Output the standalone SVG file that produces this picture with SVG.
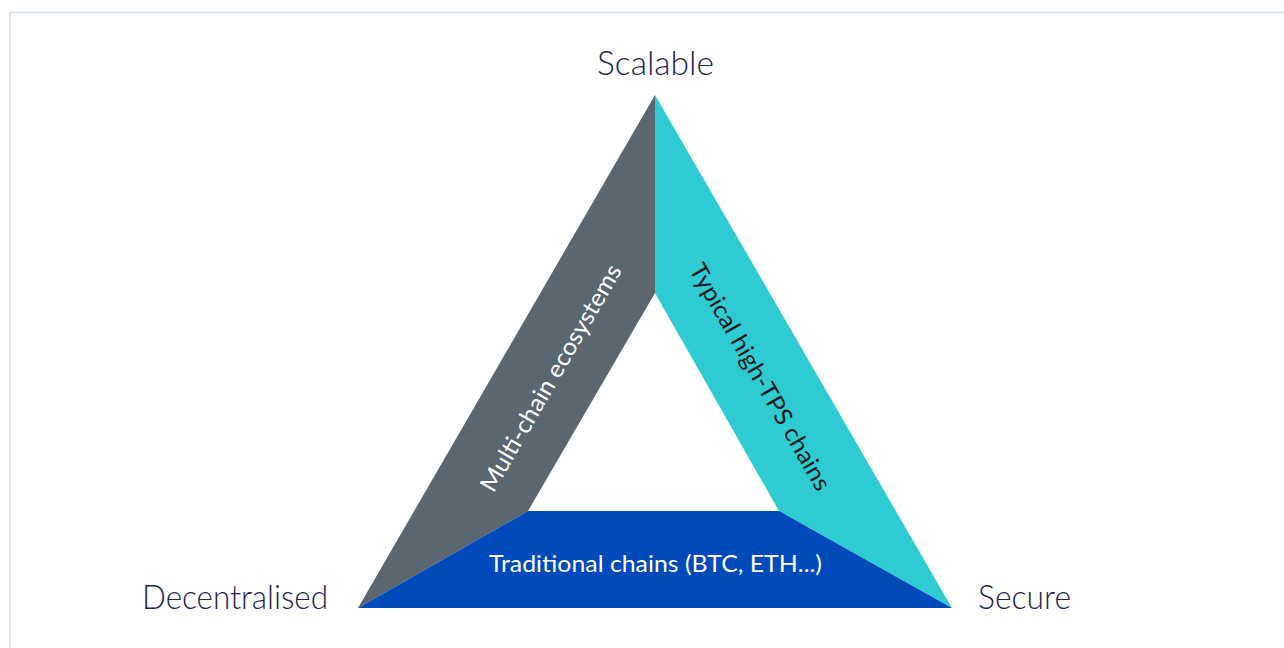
<svg xmlns="http://www.w3.org/2000/svg" width="1284" height="648" viewBox="0 0 1284 648">
  <style>
    .corner { font-family: Lato, "Liberation Sans", sans-serif; font-size: 34px; font-weight: 300; fill: #24224f; }
    .band { font-family: Lato, "Liberation Sans", sans-serif; font-size: 24px; font-weight: 400; }
  </style>
  <!-- page background and card frame -->
  <rect x="0" y="0" width="1284" height="648" fill="#ffffff"/>
  <path d="M10 660 V12.5 H1300" fill="none" stroke="#d3e0ea" stroke-width="1.6"/>

  <!-- left band: multi-chain ecosystems -->
  <g id="multi-chain">
    <polygon points="655,95 655,293 528,511 358,608" fill="#5a6670"/>
    <text class="band" x="0" y="0" fill="#ffffff" text-anchor="middle" transform="translate(558,382) rotate(-60)" textLength="258" lengthAdjust="spacingAndGlyphs">Multi-chain ecosystems</text>
  </g>

  <!-- right band: high-throughput chains -->
  <g id="high-tps">
    <polygon points="655,95 952,608 779,511 655,293" fill="#2ecbd2"/>
    <text class="band" x="0" y="0" fill="#1b1b1f" text-anchor="middle" transform="translate(753,381) rotate(60)" textLength="258" lengthAdjust="spacingAndGlyphs">Typical high-TPS chains</text>
  </g>

  <!-- bottom band: traditional chains -->
  <g id="traditional">
    <polygon points="358,608 528,511 779,511 952,608" fill="#004abb"/>
    <text class="band" x="655.5" y="572" fill="#ffffff" text-anchor="middle" textLength="333" lengthAdjust="spacingAndGlyphs">Traditional chains (BTC, ETH...)</text>
  </g>

  <!-- vertex labels -->
  <g id="scalable">
    <text class="corner" x="655.5" y="75" text-anchor="middle" textLength="117" lengthAdjust="spacingAndGlyphs">Scalable</text>
  </g>
  <g id="decentralised">
    <text class="corner" x="142" y="609" textLength="186" lengthAdjust="spacingAndGlyphs">Decentralised</text>
  </g>
  <g id="secure">
    <text class="corner" x="978" y="609" textLength="93" lengthAdjust="spacingAndGlyphs">Secure</text>
  </g>

  <g id="connectors"/>
</svg>
